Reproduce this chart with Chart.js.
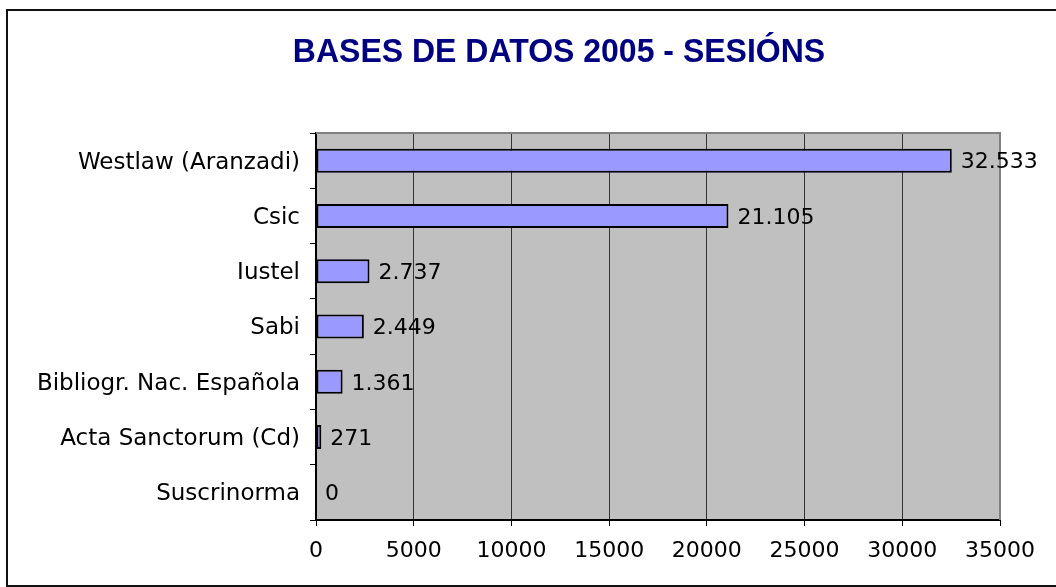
<!DOCTYPE html>
<html>
<head>
<meta charset="utf-8">
<script src="https://cdn.jsdelivr.net/npm/chart.js@4/dist/chart.umd.min.js"></script>
<style>
  html, body { margin: 0; padding: 0; background: #fff; }
  canvas { display: block; }
</style>
</head>
<body>
<canvas id="c" width="1056" height="587"></canvas>
<script>
const titleText = "BASES DE DATOS 2005 - SESIÓNS";
const categories = ["Westlaw (Aranzadi)", "Csic", "Iustel", "Sabi", "Bibliogr. Nac. Española", "Acta Sanctorum (Cd)", "Suscrinorma"];
const sessions = [32533, 21105, 2737, 2449, 1361, 271, 0];
const xTicks = [0, 5000, 10000, 15000, 20000, 25000, 30000, 35000];

function fmtEs(v) {
  return String(v).replace(/\B(?=(\d{3})+(?!\d))/g, ".");
}

const decor = {
  id: 'decor',
  beforeDraw(chart) {
    const { ctx, chartArea: a } = chart;
    ctx.save();
    ctx.fillStyle = '#C0C0C0';
    ctx.fillRect(a.left, a.top, a.right - a.left, a.bottom - a.top);
    ctx.restore();
  },
  afterDraw(chart) {
    const { ctx, chartArea: a } = chart;
    ctx.save();
    // plot top & right border
    ctx.strokeStyle = '#808080';
    ctx.lineWidth = 2;
    ctx.beginPath();
    ctx.moveTo(a.left, a.top);
    ctx.lineTo(a.right, a.top);
    ctx.lineTo(a.right, a.bottom);
    ctx.stroke();
    // outer frame
    ctx.strokeStyle = '#111';
    ctx.lineWidth = 2;
    ctx.strokeRect(7, 10, 1070, 576);
    // title
    ctx.save();
    ctx.fillStyle = '#000080';
    ctx.font = 'bold 32px "Liberation Sans", Arial, sans-serif';
    ctx.textAlign = 'center';
    ctx.textBaseline = 'alphabetic';
    ctx.translate(559, 62);
    ctx.scale(1, 1.06);
    ctx.fillText(titleText, 0, 0);
    ctx.restore();
    // data labels
    const meta = chart.getDatasetMeta(0);
    ctx.fillStyle = '#000';
    ctx.font = '22px "DejaVu Sans", Verdana, sans-serif';
    ctx.textAlign = 'left';
    ctx.textBaseline = 'middle';
    meta.data.forEach((bar, i) => {
      ctx.fillText(fmtEs(sessions[i]), bar.x + 9, bar.y + 2);
    });
    ctx.restore();
  }
};

new Chart(document.getElementById('c'), {
  type: 'bar',
  data: {
    labels: categories,
    datasets: [{
      data: sessions,
      backgroundColor: '#9999FF',
      borderColor: '#000',
      borderWidth: 2,
      borderSkipped: false,
      barPercentage: 0.434,
      categoryPercentage: 1
    }]
  },
  options: {
    indexAxis: 'y',
    responsive: false,
    animation: false,
    devicePixelRatio: 1,
    layout: { padding: { left: 0, top: 133, right: 56, bottom: 0 } },
    plugins: { legend: { display: false }, title: { display: false }, tooltip: { enabled: false } },
    scales: {
      x: {
        min: 0, max: 35000,
        afterFit(s) { s.height = 67; },
        afterBuildTicks(s) { s.ticks = xTicks.map(v => ({ value: v })); },
        ticks: {
          color: '#000',
          font: { family: '"DejaVu Sans", Verdana, sans-serif', size: 22 },
          padding: 12,
          maxRotation: 0,
          callback: (v) => String(v)
        },
        grid: {
          color: (c) => c.tick && c.tick.value === 35000 ? '#808080' : '#333',
          lineWidth: 1,
          tickLength: 6,
          tickColor: '#000'
        },
        border: { color: '#000', width: 2 }
      },
      y: {
        afterFit(s) { s.width = 316; },
        ticks: {
          color: '#000',
          font: { family: '"DejaVu Sans", Verdana, sans-serif', size: 23 },
          padding: 10,
          labelOffset: 2
        },
        grid: {
          drawOnChartArea: false,
          offset: true,
          tickLength: 6,
          tickColor: '#000'
        },
        border: { color: '#000', width: 2 }
      }
    }
  },
  plugins: [decor]
});
</script>
</body>
</html>
